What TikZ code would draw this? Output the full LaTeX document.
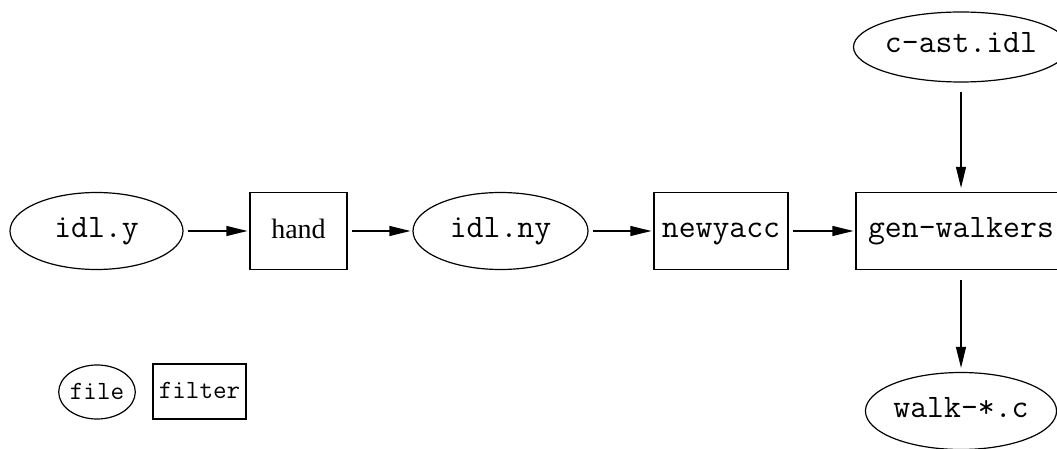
\documentclass[tikz,border=0pt]{standalone}
\usepackage{fontspec}
\setmainfont{Liberation Serif}
\usetikzlibrary{shapes.geometric, arrows.meta}
\tikzset{>={Triangle[length=21pt,width=10pt]}}
\tikzset{
  file/.style={ellipse, draw, line width=1.2pt, inner sep=0pt,
    minimum height=77pt, font=\ttfamily\fontsize{32.8}{38}\selectfont,
    text height=12pt, text depth=0pt},
  filterbox/.style={rectangle, draw, line width=1.2pt, inner sep=0pt,
    minimum height=77pt, font=\ttfamily\fontsize{32.8}{38}\selectfont,
    text height=12pt, text depth=0pt},
  smalltext/.style={font=\ttfamily\fontsize{26.3}{30}\selectfont,
    text height=14pt, text depth=0pt},
  flow/.style={->, line width=1.2pt}
}

\begin{document}
\begin{tikzpicture}[x=1pt, y=-1pt]
\useasboundingbox (0,0) rectangle (1057,449);
% main row
\node[file, minimum width=173pt] (idly) at (96.5,231) {idl.y};
\node[filterbox, minimum width=97pt, font=\fontsize{28}{34}\selectfont,
  text height=14pt] (hand) at (298.5,231) {hand};
\node[file, minimum width=175pt] (idlny) at (500.5,231) {idl.ny};
\node[filterbox, minimum width=134pt] (newyacc) at (721,231) {newyacc};
\node[filterbox, minimum width=210pt] (genwalkers) at (961,231) {gen-walkers};
\node[file, minimum width=174pt, minimum height=70pt] (cast) at (961,47) {c-ast.idl};
\node[file, minimum width=174pt] (walk) at (961,411) {walk-*.c};
% legend
\node[file, minimum width=74pt, minimum height=54pt, smalltext] (file) at (97,392) {file};
\node[filterbox, minimum width=93pt, minimum height=55pt, smalltext] (filter) at (199.5,391.5) {filter};

\draw[flow, shorten <=4pt, shorten >=2pt] (idly) -- (hand);
\draw[flow, shorten <=4pt, shorten >=2pt] (hand) -- (idlny);
\draw[flow, shorten <=4pt, shorten >=2pt] (idlny) -- (newyacc);
\draw[flow, shorten <=4pt, shorten >=2pt] (newyacc) -- (genwalkers);
\draw[flow, shorten <=9pt, shorten >=4pt] (cast) -- (genwalkers);
\draw[flow, shorten <=10pt, shorten >=4pt] (genwalkers) -- (walk);
\end{tikzpicture}
\end{document}
